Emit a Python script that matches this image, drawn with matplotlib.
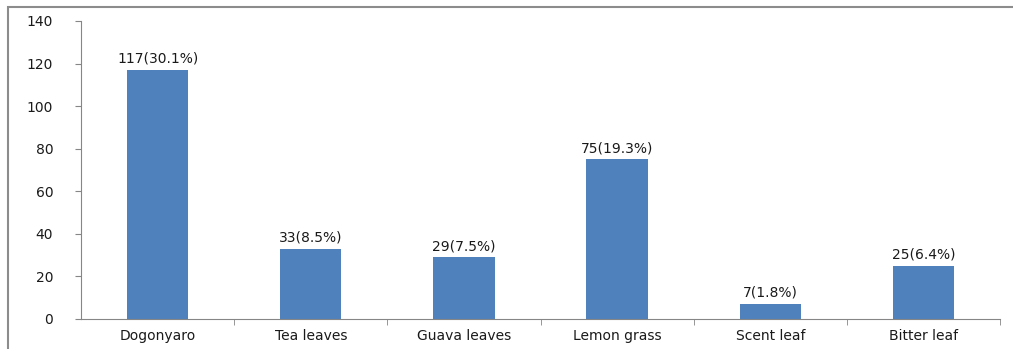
import matplotlib
matplotlib.use("Agg")
import matplotlib.pyplot as plt
from matplotlib.patches import Rectangle

plt.rcParams["font.family"] = "sans-serif"
plt.rcParams["font.sans-serif"] = ["DejaVu Sans"]

# data
categories = ["Dogonyaro", "Tea leaves", "Guava leaves", "Lemon grass", "Scent leaf", "Bitter leaf"]
counts = [117, 33, 29, 75, 7, 25]
percents = [30.1, 8.5, 7.5, 19.3, 1.8, 6.4]

fig = plt.figure(figsize=(10.13, 3.49), dpi=100)
ax = fig.add_axes([81/1013, 1-319/349, (1000-81)/1013, (319-21)/349])

# outer chart border (cut off on the right and bottom)
fig.patches.append(Rectangle((8/1013, -0.1), 1.1, 1-7/349+0.1, transform=fig.transFigure,
                             fill=False, edgecolor="#8c8c8c", linewidth=1.5))

x = range(len(categories))
bars = ax.bar(x, counts, width=0.4, color="#4f81bd")

for i in x:
    ax.text(i, counts[i] + 2, "%d(%.1f%%)" % (counts[i], percents[i]),
            ha="center", va="bottom", fontsize=10, color="#1a1a1a")

ax.set_xlim(-0.5, len(categories) - 0.5)
ax.set_ylim(0, 140)
ax.set_yticks(range(0, 141, 20))
ax.set_xticks(x)
ax.set_xticklabels(categories)
ax.set_xticks([i + 0.5 for i in range(len(categories))], minor=True)
ax.tick_params(axis="x", which="major", length=0, pad=7, labelsize=10, labelcolor="#1a1a1a")
ax.tick_params(axis="x", which="minor", length=4, color="#868686")
ax.tick_params(axis="y", length=4, color="#868686", labelsize=10, pad=16, labelcolor="#1a1a1a")

for s in ["top", "right"]:
    ax.spines[s].set_visible(False)
for s in ["left", "bottom"]:
    ax.spines[s].set_color("#868686")

plt.savefig("out.png", dpi=100)
